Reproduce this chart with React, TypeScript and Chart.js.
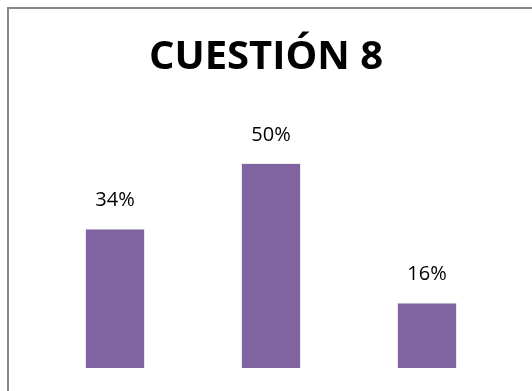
import React, { useEffect, useRef } from "react";
import { Chart, registerables } from "chart.js";

Chart.register(...registerables);

const categories = ["A", "B", "C"];
const values = [34, 50, 16];
const valueLabels = ["34%", "50%", "16%"];
const titleText = "CUESTIÓN 8";

const frameAndTitle = {
  id: "frameAndTitle",
  beforeDraw(chart: any) {
    const ctx = chart.ctx;
    ctx.save();
    ctx.fillStyle = "#ffffff";
    ctx.fillRect(0, 0, chart.width, chart.height);
    ctx.strokeStyle = "#878787";
    ctx.lineWidth = 2;
    ctx.strokeRect(8, 8, 700, 700);
    ctx.restore();
  },
  afterDatasetsDraw(chart: any) {
    const ctx = chart.ctx;
    ctx.save();
    ctx.fillStyle = "#000000";
    ctx.font = "bold 40px 'Open Sans'";
    ctx.textAlign = "center";
    ctx.textBaseline = "middle";
    ctx.fillText(titleText, 266, 58);
    const meta = chart.getDatasetMeta(0);
    ctx.font = "20px 'Open Sans'";
    meta.data.forEach((bar: any, i: number) => {
      ctx.fillText(valueLabels[i], bar.x, bar.y - 28);
    });
    ctx.restore();
  },
};

export default function App() {
  const ref = useRef<HTMLCanvasElement | null>(null);
  useEffect(() => {
    document.body.style.margin = "0";
    const chart = new Chart(ref.current!, {
      type: "bar",
      data: {
        labels: categories,
        datasets: [
          {
            data: values,
            backgroundColor: "#8064A2",
            borderColor: "rgba(0,0,0,0.08)",
            borderWidth: 1,
            barPercentage: 0.77,
            categoryPercentage: 0.5,
          },
        ],
      },
      options: {
        animation: false,
        responsive: false,
        layout: { padding: { left: 37, right: 27, top: 122, bottom: 23 } },
        plugins: { legend: { display: false }, title: { display: false }, tooltip: { enabled: false } },
        scales: {
          x: { display: false },
          y: { display: false, min: 0, max: 60 },
        },
      },
      plugins: [frameAndTitle],
    });
    return () => chart.destroy();
  }, []);
  return <canvas ref={ref} width={532} height={391} style={{ display: "block" }} />;
}
